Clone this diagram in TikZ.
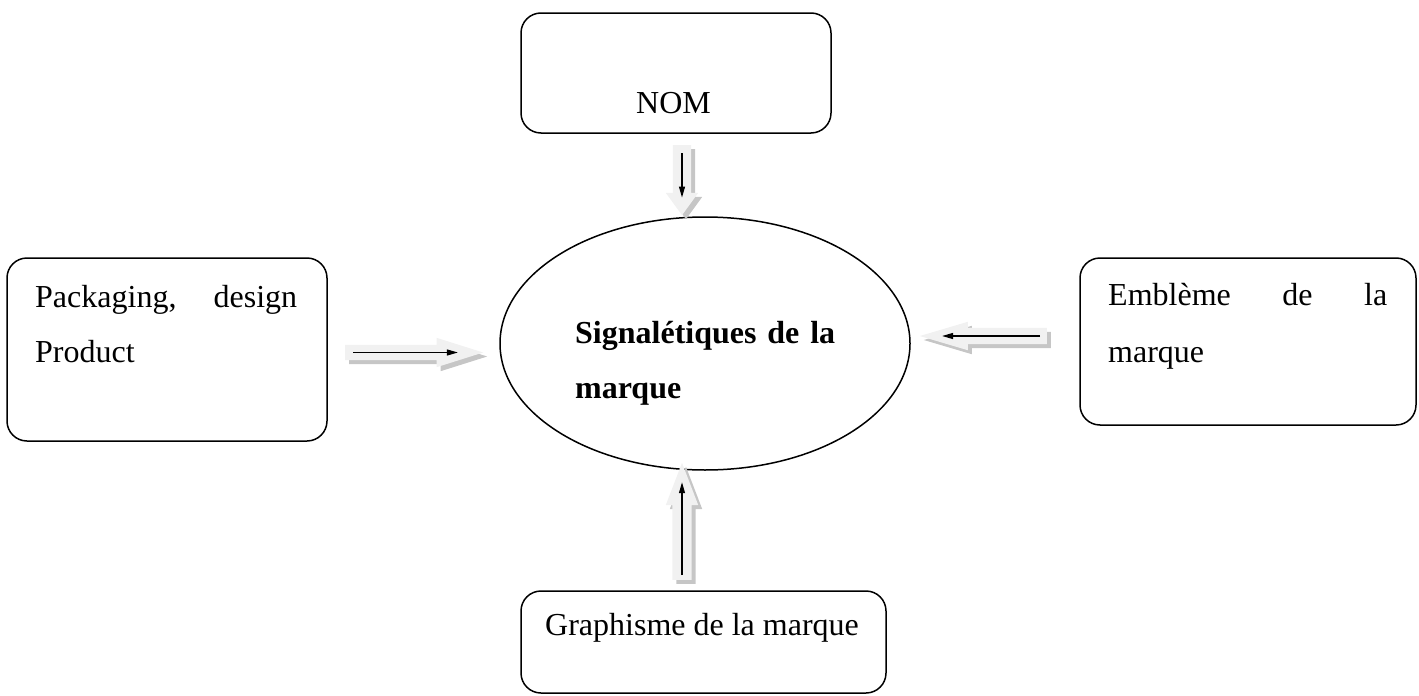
\documentclass[tikz,border=0pt]{standalone}
\usepackage{fontspec}
\setmainfont{Liberation Serif}
\usetikzlibrary{shapes.geometric, shapes.arrows, shadows, arrows.meta}

\definecolor{arrowfill}{HTML}{F1F1F1}
\definecolor{arrowshade}{HTML}{C6C6C6}

\tikzset{
  box/.style={draw, line width=1.5pt, rounded corners=20pt, inner sep=0pt},
  hub/.style={draw, ellipse, line width=1.5pt, inner sep=0pt,
    minimum width=410pt, minimum height=253pt},
  label/.style={anchor=base west, inner sep=0pt, font=\fontsize{32}{55}\selectfont},
  blockarrow/.style={single arrow, draw=none, fill=arrowfill, anchor=tail,
    drop shadow={shadow xshift=4pt, shadow yshift=-4pt, fill=arrowshade, opacity=1}},
  pointer/.style={line width=1.2pt, -{Triangle[length=11pt,width=6pt]}}
}

\begin{document}
\begin{tikzpicture}[x=1pt, y=-1pt]
  \useasboundingbox (0,0) rectangle (1419,696);

  % outer boxes and central ellipse
  \node[box, minimum width=310pt, minimum height=120pt] (nom) at (676,73) {};
  \node[box, minimum width=320pt, minimum height=183pt] (pack) at (167,349.5) {};
  \node[box, minimum width=336pt, minimum height=167pt] (embl) at (1248,341.5) {};
  \node[box, minimum width=365pt, minimum height=102pt] (graph) at (703.5,642) {};
  \node[hub] (sig) at (705,343.5) {};

  % texts
  \node[label] (tnom) at (636,113) {NOM};
  \node[label] (tpack1) at (35,307) {\makebox[262pt][s]{Packaging, design}};
  \node[label] (tpack2) at (35,362) {Product};
  \node[label] (templ1) at (1108,305) {\makebox[279pt][s]{Emblème de la}};
  \node[label] (templ2) at (1108,362) {marque};
  \node[label] (tgraph) at (545,635) {Graphisme de la marque};
  \node[label, font=\fontsize{32}{55}\selectfont\bfseries] (tsig1) at (575,343)
    {\makebox[260pt][s]{Signalétiques de la}};
  \node[label, font=\fontsize{32}{55}\selectfont\bfseries] (tsig2) at (575,398) {marque};

  % block arrows towards the ellipse (placed by their tails)
  \node[blockarrow, shape border rotate=270, inner sep=9pt, minimum height=70pt,
        single arrow head extend=7pt, single arrow tip angle=72] (afrom-nom) at (682,145) {};
  \node[blockarrow, shape border rotate=0, inner sep=7.5pt, minimum height=138pt,
        single arrow head extend=7pt, single arrow tip angle=35] (afrom-pack) at (345,352.5) {};
  \node[blockarrow, shape border rotate=180, inner sep=8pt, minimum height=127pt,
        single arrow head extend=6pt, single arrow tip angle=33] (afrom-embl) at (1047,336) {};
  \node[blockarrow, shape border rotate=90, inner sep=9.5pt, minimum height=117pt,
        single arrow head extend=6.5pt, single arrow tip angle=42] (afrom-graph) at (682,580) {};

  % thin pointers inside the block arrows
  \draw[pointer, shorten <=8pt, shorten >=18pt] (afrom-nom.tail) -- (afrom-nom.tip);
  \draw[pointer, shorten <=8pt, shorten >=26pt] (afrom-pack.tail) -- (afrom-pack.tip);
  \draw[pointer, shorten <=7pt, shorten >=23pt] (afrom-embl.tail) -- (afrom-embl.tip);
  \draw[pointer, shorten <=5pt, shorten >=20pt] (afrom-graph.tail) -- (afrom-graph.tip);
\end{tikzpicture}
\end{document}
